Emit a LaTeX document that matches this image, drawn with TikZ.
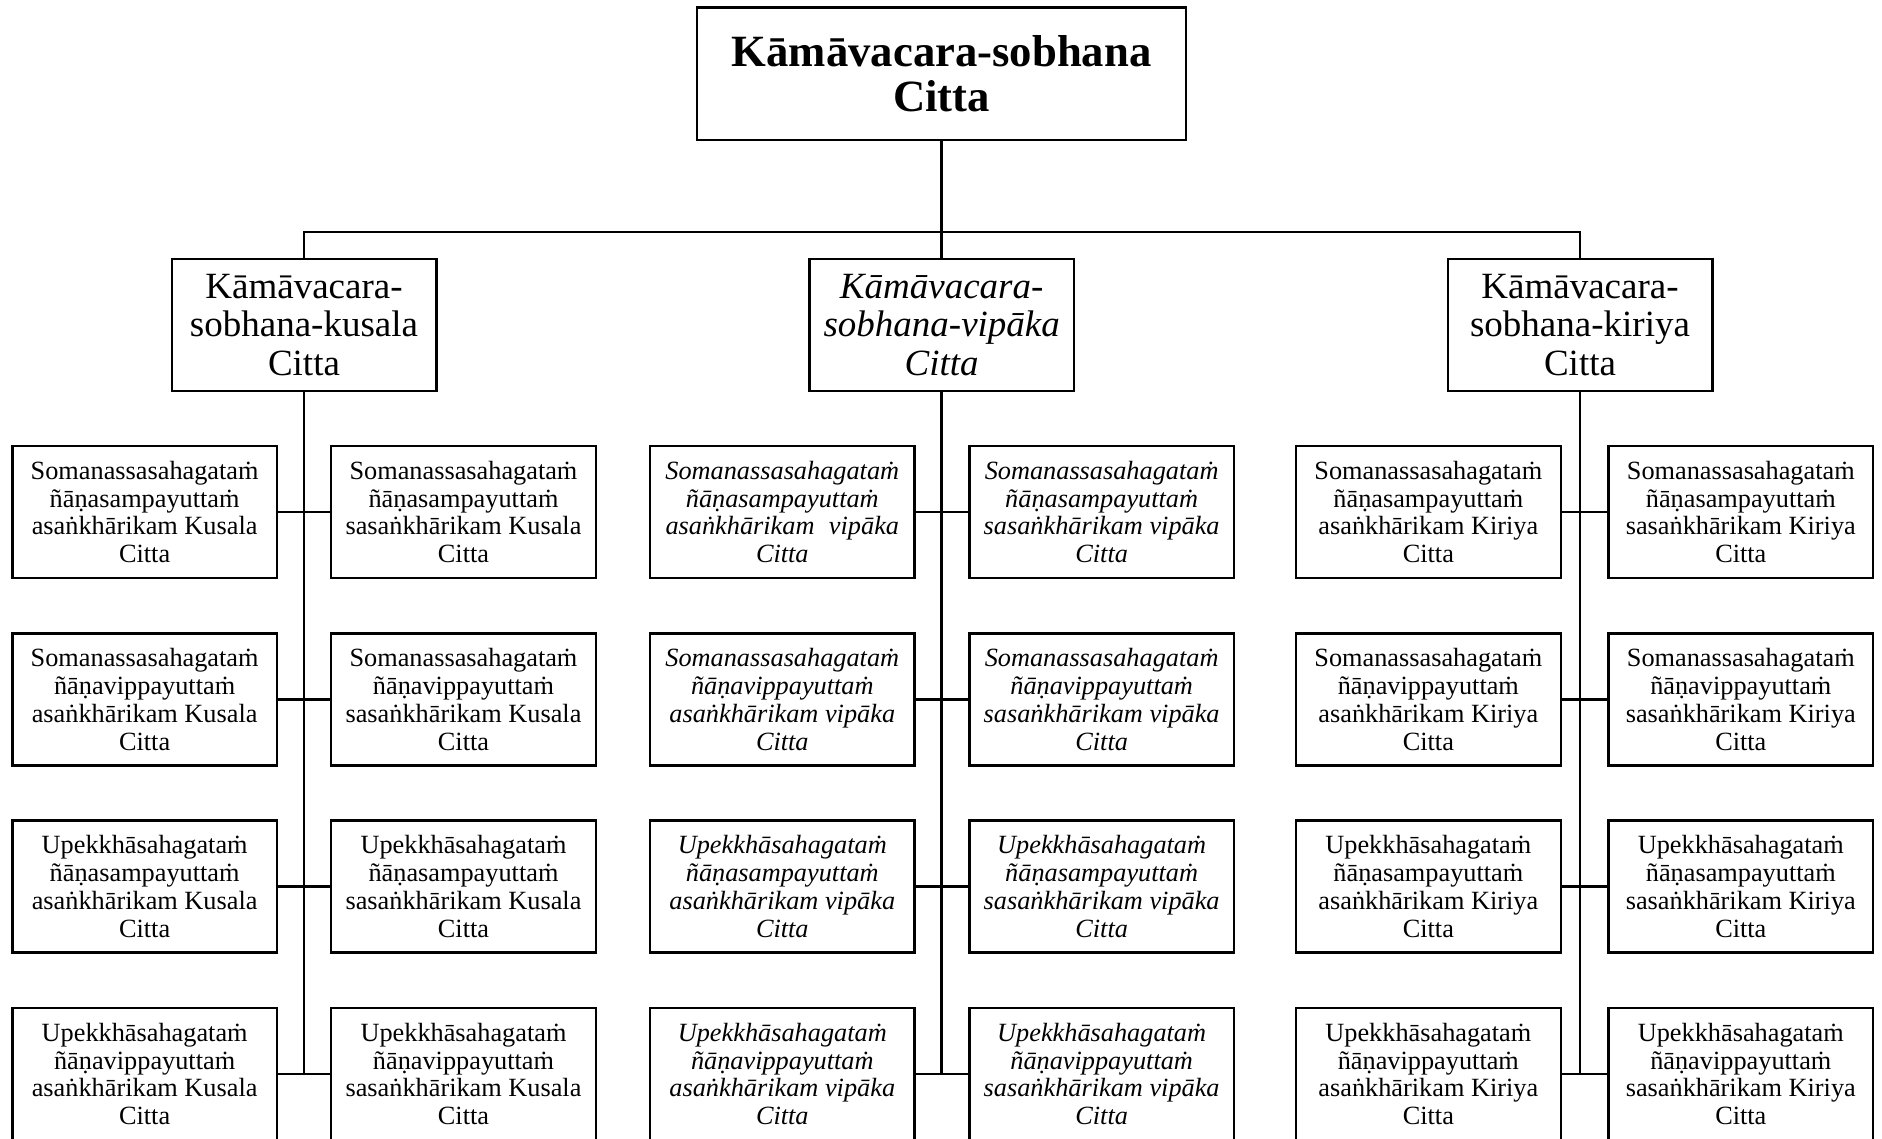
\documentclass[tikz,border=0pt]{standalone}
\usepackage{fontspec}
\setmainfont{Liberation Serif}
\tikzset{
  box/.style={draw, line width=2.4pt, inner sep=0pt, align=center, minimum height=132pt},
  leaf/.style={box, minimum width=264.7pt, font=\fontsize{26.3}{27.8}\selectfont},
  leafit/.style={box, minimum width=264.7pt, font=\fontsize{26.3}{27.8}\selectfont\itshape},
  midbox/.style={box, minimum width=264.6pt, font=\fontsize{37}{38.7}\selectfont},
  midboxit/.style={box, minimum width=264.6pt, font=\fontsize{37}{38.7}\selectfont\itshape},
  topbox/.style={box, minimum width=489pt, minimum height=132.5pt, font=\fontsize{44.7}{45}\selectfont\bfseries},
  link/.style={line width=2.8pt},
}
\begin{document}
\begin{tikzpicture}[x=1pt,y=-1pt]
\useasboundingbox (0,0) rectangle (1882,1138);
\clip (0,0) rectangle (1882,1138);

% top
\node[topbox] (top) at (941.7,73.8) {Kāmāvacara-sobhana\\Citta};

% level 2
\node[midbox]   (k) at (304,325)    {Kāmāvacara-\\sobhana-kusala\\Citta};
\node[midboxit] (v) at (941.7,325)  {Kāmāvacara-\\sobhana-vipāka\\Citta};
\node[midbox]   (r) at (1580,325)   {Kāmāvacara-\\sobhana-kiriya\\Citta};

\coordinate (bar) at (941.7,232);
\draw[link] (top.south) -- (bar);
\draw[link] (k.north) |- (bar);
\draw[link] (r.north) |- (bar);
\draw[link] (v.north) -- (bar);

% kusala column
\node[leaf] (kL1) at (144.65,512)   {Somanassasahagataṁ\\ñāṇasampayuttaṁ\\asaṅkhārikam Kusala\\Citta};
\node[leaf] (kR1) at (463.5,512)    {Somanassasahagataṁ\\ñāṇasampayuttaṁ\\sasaṅkhārikam Kusala\\Citta};
\node[leaf] (kL2) at (144.65,699.3) {Somanassasahagataṁ\\ñāṇavippayuttaṁ\\asaṅkhārikam Kusala\\Citta};
\node[leaf] (kR2) at (463.5,699.3)  {Somanassasahagataṁ\\ñāṇavippayuttaṁ\\sasaṅkhārikam Kusala\\Citta};
\node[leaf] (kL3) at (144.65,886.6) {Upekkhāsahagataṁ\\ñāṇasampayuttaṁ\\asaṅkhārikam Kusala\\Citta};
\node[leaf] (kR3) at (463.5,886.6)  {Upekkhāsahagataṁ\\ñāṇasampayuttaṁ\\sasaṅkhārikam Kusala\\Citta};
\node[leaf] (kL4) at (144.65,1073.9){Upekkhāsahagataṁ\\ñāṇavippayuttaṁ\\asaṅkhārikam Kusala\\Citta};
\node[leaf] (kR4) at (463.5,1073.9) {Upekkhāsahagataṁ\\ñāṇavippayuttaṁ\\sasaṅkhārikam Kusala\\Citta};

% vipaka column
\node[leafit] (vL1) at (782.3,512)    {Somanassasahagataṁ\\ñāṇasampayuttaṁ\\asaṅkhārikam\hspace{0.3em} vipāka\\Citta};
\node[leafit] (vR1) at (1101.65,512)  {Somanassasahagataṁ\\ñāṇasampayuttaṁ\\sasaṅkhārikam vipāka\\Citta};
\node[leafit] (vL2) at (782.3,699.3)  {Somanassasahagataṁ\\ñāṇavippayuttaṁ\\asaṅkhārikam vipāka\\Citta};
\node[leafit] (vR2) at (1101.65,699.3){Somanassasahagataṁ\\ñāṇavippayuttaṁ\\sasaṅkhārikam vipāka\\Citta};
\node[leafit] (vL3) at (782.3,886.6)  {Upekkhāsahagataṁ\\ñāṇasampayuttaṁ\\asaṅkhārikam vipāka\\Citta};
\node[leafit] (vR3) at (1101.65,886.6){Upekkhāsahagataṁ\\ñāṇasampayuttaṁ\\sasaṅkhārikam vipāka\\Citta};
\node[leafit] (vL4) at (782.3,1073.9) {Upekkhāsahagataṁ\\ñāṇavippayuttaṁ\\asaṅkhārikam vipāka\\Citta};
\node[leafit] (vR4) at (1101.65,1073.9){Upekkhāsahagataṁ\\ñāṇavippayuttaṁ\\sasaṅkhārikam vipāka\\Citta};

% kiriya column
\node[leaf] (rL1) at (1428.35,512)   {Somanassasahagataṁ\\ñāṇasampayuttaṁ\\asaṅkhārikam Kiriya\\Citta};
\node[leaf] (rR1) at (1740.8,512)    {Somanassasahagataṁ\\ñāṇasampayuttaṁ\\sasaṅkhārikam Kiriya\\Citta};
\node[leaf] (rL2) at (1428.35,699.3) {Somanassasahagataṁ\\ñāṇavippayuttaṁ\\asaṅkhārikam Kiriya\\Citta};
\node[leaf] (rR2) at (1740.8,699.3)  {Somanassasahagataṁ\\ñāṇavippayuttaṁ\\sasaṅkhārikam Kiriya\\Citta};
\node[leaf] (rL3) at (1428.35,886.6) {Upekkhāsahagataṁ\\ñāṇasampayuttaṁ\\asaṅkhārikam Kiriya\\Citta};
\node[leaf] (rR3) at (1740.8,886.6)  {Upekkhāsahagataṁ\\ñāṇasampayuttaṁ\\sasaṅkhārikam Kiriya\\Citta};
\node[leaf] (rL4) at (1428.35,1073.9){Upekkhāsahagataṁ\\ñāṇavippayuttaṁ\\asaṅkhārikam Kiriya\\Citta};
\node[leaf] (rR4) at (1740.8,1073.9) {Upekkhāsahagataṁ\\ñāṇavippayuttaṁ\\sasaṅkhārikam Kiriya\\Citta};

% trunks and branches
\foreach \c in {k,v,r}{
  \draw[link] (\c.south) -- (\c.south |- \c L4.east);
  \foreach \n in {1,2,3,4}{
    \draw[link] (\c L\n.east) -- (\c R\n.west);
  }
}
\end{tikzpicture}
\end{document}
